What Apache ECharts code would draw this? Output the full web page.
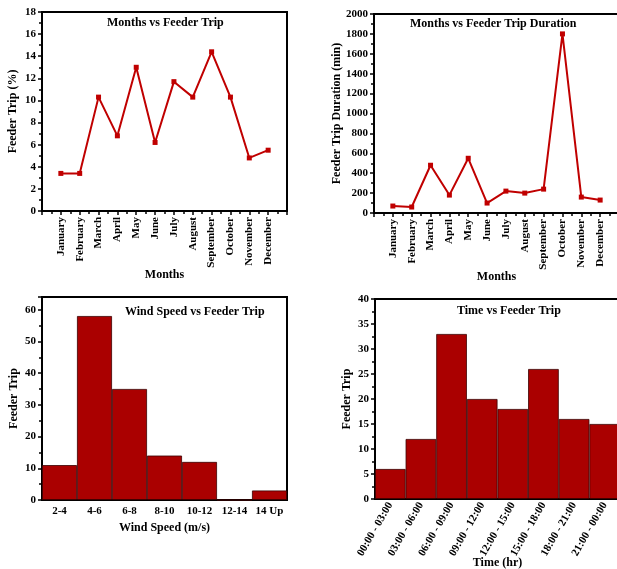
<!DOCTYPE html>
<html>
<head>
<meta charset="utf-8">
<script src="https://cdn.jsdelivr.net/npm/echarts@6/dist/echarts.min.js"></script>
<style>
  html, body { margin: 0; padding: 0; background: #fff; }
  #chart { width: 617px; height: 569px; }
</style>
</head>
<body>
<div id="chart"></div>
<script>
// data
const months = ['January', 'February', 'March', 'April', 'May', 'June', 'July',
    'August', 'September', 'October', 'November', 'December']
const tripPercent = [3.4, 3.4, 10.3, 6.8, 13.0, 6.2, 11.7, 10.3, 14.4, 10.3, 4.8, 5.5]
const tripDuration = [70, 60, 480, 180, 550, 100, 220, 200, 240, 1800, 160, 130]
const windClasses = ['2-4', '4-6', '6-8', '8-10', '10-12', '12-14', '14 Up']
const windTrips = [11, 58, 35, 14, 12, 0, 3]
const timeSlots = ['00:00 - 03:00', '03:00 - 06:00', '06:00 - 09:00', '09:00 - 12:00',
    '12:00 - 15:00', '15:00 - 18:00', '18:00 - 21:00', '21:00 - 00:00']
const timeTrips = [6, 12, 33, 20, 18, 26, 16, 15]

const FONT = 'Liberation Serif'
const lineColor = '#c00000'
const barColor = '#aa0000'

const txt = (size) => ({ color: '#000', fontFamily: FONT, fontWeight: 'bold', fontSize: size })

function monthAxis (gridIndex) {
    return {
        type: 'value', gridIndex: gridIndex, min: 0, max: 13, interval: 1,
        name: 'Months', nameLocation: 'middle', nameGap: 58, nameMoveOverlap: false,
        nameTextStyle: txt(12),
        axisLine: { lineStyle: { color: '#000', width: 2 } },
        axisTick: { length: 4, lineStyle: { color: '#000', width: 1.5 } },
        minorTick: { show: true, splitNumber: 2, length: 3, lineStyle: { color: '#000', width: 1.5 } },
        splitLine: { show: false },
        axisLabel: {
            ...txt(11), rotate: 90, margin: 6, interval: 0,
            formatter: (v) => months[v - 1] || ''
        }
    }
}

function valueAxis (gridIndex, max, interval, name, nameGap, showMax) {
    return {
        type: 'value', gridIndex: gridIndex, min: 0, max: max, interval: interval,
        name: name, nameLocation: 'middle', nameGap: nameGap, nameMoveOverlap: false,
        nameTextStyle: txt(12),
        axisLine: { show: true, lineStyle: { color: '#000', width: 2 } },
        axisTick: { show: true, length: 4, lineStyle: { color: '#000', width: 1.5 } },
        minorTick: { show: true, splitNumber: 2, length: 3, lineStyle: { color: '#000', width: 1.5 } },
        splitLine: { show: false },
        axisLabel: { ...txt(11), margin: 6, showMaxLabel: showMax, formatter: (v) => String(v) }
    }
}

function catAxis (gridIndex, data, name, nameGap, rotate) {
    return {
        type: 'category', gridIndex: gridIndex, data: data,
        name: name, nameLocation: 'middle', nameGap: nameGap, nameMoveOverlap: false,
        nameTextStyle: txt(12),
        axisLine: { lineStyle: { color: '#000', width: 2 } },
        axisTick: { alignWithLabel: true, length: 4, lineStyle: { color: '#000', width: 1.5 } },
        axisLabel: { ...txt(11), interval: 0, rotate: rotate, margin: rotate ? 4 : 6 }
    }
}

// tick marks on the bar edges
function edgeTicks (gridIndex, data) {
    return {
        type: 'category', gridIndex: gridIndex, data: data, position: 'bottom',
        axisLine: { show: false },
        axisTick: { length: 3, lineStyle: { color: '#000', width: 1.5 } },
        axisLabel: { show: false }
    }
}

const frame = {
    show: true, borderColor: '#000', borderWidth: 2, backgroundColor: 'transparent',
    containLabel: false, outerBoundsMode: 'none'
}

const option = {
    animation: false,
    backgroundColor: '#fff',
    title: [
        { text: 'Months vs Feeder Trip', left: 107, top: 17, padding: 0, textStyle: txt(12) },
        { text: 'Months vs Feeder Trip Duration', left: 410, top: 18, padding: 0, textStyle: txt(12) },
        { text: 'Wind Speed vs Feeder Trip', left: 125, top: 306, padding: 0, textStyle: txt(12) },
        { text: 'Time vs Feeder Trip', left: 457, top: 305, padding: 0, textStyle: txt(12) }
    ],
    grid: [
        { left: 42, top: 12, width: 245, height: 199, ...frame },
        { left: 374, top: 14, width: 245, height: 199, ...frame },
        { left: 42, top: 297, width: 245, height: 203, ...frame },
        { left: 375, top: 299, width: 245, height: 200, ...frame }
    ],
    xAxis: [
        monthAxis(0),
        monthAxis(1),
        catAxis(2, windClasses, 'Wind Speed (m/s)', 22, 0),
        catAxis(3, timeSlots, 'Time (hr)', 58, 60),
        edgeTicks(2, windClasses),
        edgeTicks(3, timeSlots)
    ],
    yAxis: [
        valueAxis(0, 18, 2, 'Feeder Trip (%)', 23, true),
        valueAxis(1, 2000, 200, 'Feeder Trip Duration (min)', 31, true),
        valueAxis(2, 64, 10, 'Feeder Trip', 22, false),
        valueAxis(3, 40, 5, 'Feeder Trip', 22, true)
    ],
    series: [
        {
            type: 'line', xAxisIndex: 0, yAxisIndex: 0,
            data: tripPercent.map((v, i) => [i + 1, v]),
            symbol: 'rect', symbolSize: 5,
            lineStyle: { color: lineColor, width: 2 }, itemStyle: { color: lineColor }
        },
        {
            type: 'line', xAxisIndex: 1, yAxisIndex: 1,
            data: tripDuration.map((v, i) => [i + 1, v]),
            symbol: 'rect', symbolSize: 5,
            lineStyle: { color: lineColor, width: 2 }, itemStyle: { color: lineColor }
        },
        {
            type: 'bar', xAxisIndex: 2, yAxisIndex: 2, data: windTrips, barCategoryGap: 0,
            itemStyle: { color: barColor, borderColor: '#3a0000', borderWidth: 0.8 }
        },
        {
            type: 'bar', xAxisIndex: 3, yAxisIndex: 3, data: timeTrips, barCategoryGap: 0,
            itemStyle: { color: barColor, borderColor: '#3a0000', borderWidth: 0.8 }
        }
    ]
}

const chart = echarts.init(document.getElementById('chart'))
chart.setOption(option)
</script>
</body>
</html>
